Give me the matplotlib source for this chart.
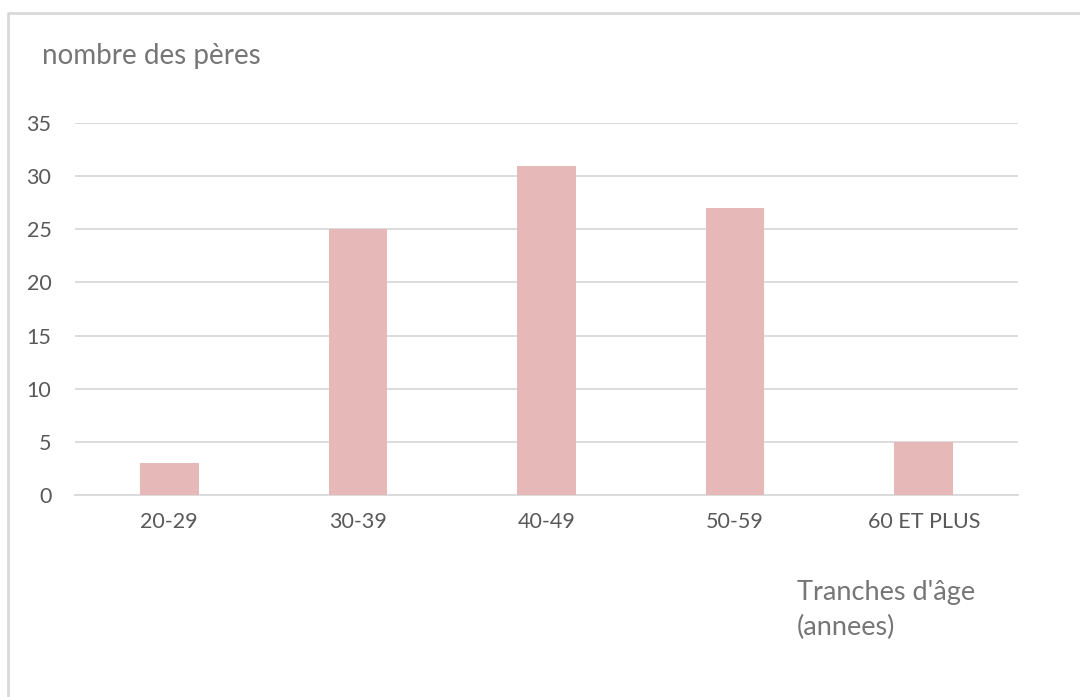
import matplotlib
matplotlib.use("Agg")
import matplotlib.pyplot as plt
from matplotlib.lines import Line2D

categories = ["20-29", "30-39", "40-49", "50-59", "60 ET PLUS"]
fathers = [3, 25, 31, 27, 5]
y_ticks = [0, 5, 10, 15, 20, 25, 30, 35]

plt.rcParams['font.family'] = ['Lato', 'DejaVu Sans']

W, H = 1080, 697
fig = plt.figure(figsize=(W / 100, H / 100), dpi=100)
fig.patch.set_facecolor("white")

# Chart frame (top and left edges)
fig.add_artist(Line2D([7.5 / W, 7.5 / W, 1.0], [0.0, 1 - 12.5 / H, 1 - 12.5 / H],
                      transform=fig.transFigure, color="#d9d9d9", lw=2))

ax = fig.add_axes([75 / W, 1 - 495 / H, (1018 - 75) / W, (495 - 123) / H])
x = range(len(categories))
ax.bar(x, fathers, width=0.31, color="#e6b8b7", zorder=3)
ax.set_xlim(-0.5, len(categories) - 0.5)
ax.set_ylim(0, 35)
ax.set_yticks(y_ticks)
ax.set_xticks(list(x))
ax.set_xticklabels(categories)
ax.yaxis.grid(True, color="#d9d9d9", lw=1.3, zorder=0)
ax.set_axisbelow(True)
for s in ["top", "right", "left"]:
    ax.spines[s].set_visible(False)
ax.spines["bottom"].set_color("#d9d9d9")
ax.spines["bottom"].set_linewidth(1.3)
ax.tick_params(axis="both", length=0, labelsize=15.5, labelcolor="#595959")
ax.tick_params(axis="y", pad=17)
ax.tick_params(axis="x", pad=12)

fig.text(42 / W, 1 - 56 / H, "nombre des pères", fontsize=20, color="#767676",
         ha="left", va="center")
fig.text(797 / W, 1 - 610 / H, "Tranches d'âge\n(annees)", fontsize=19.5, color="#767676",
         ha="left", va="center", linespacing=1.45)

fig.savefig("out.png", dpi=100, facecolor="white")
